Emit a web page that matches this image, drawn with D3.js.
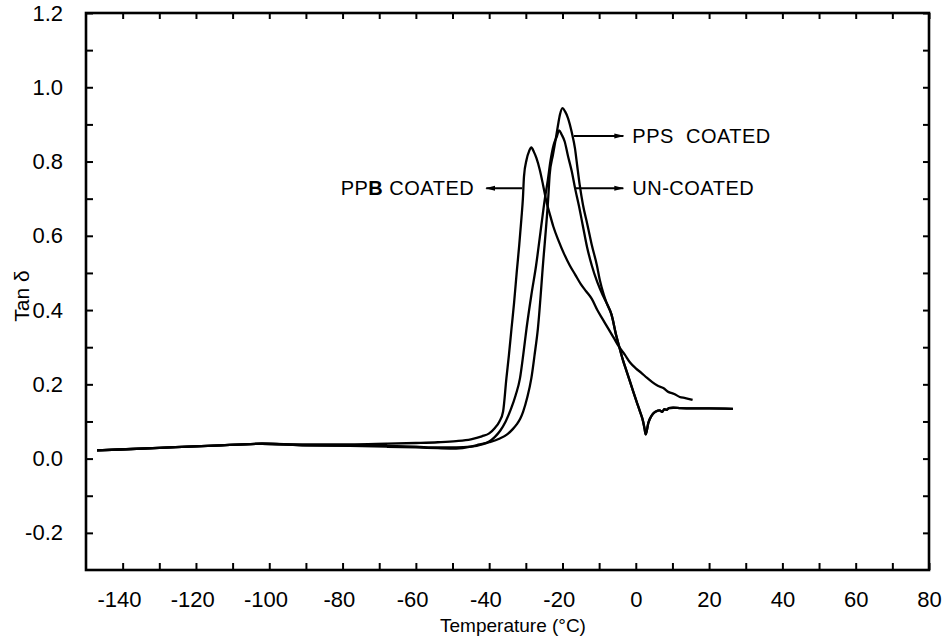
<!DOCTYPE html>
<html>
<head>
<meta charset="utf-8">
<script src="https://d3js.org/d3.v7.min.js"></script>
<style>
  body { margin: 0; background: #fff; }
  svg { display: block; font-family: "Liberation Sans", Arial, sans-serif; }
</style>
</head>
<body>
<svg id="chart" width="946" height="637"></svg>
<script>
// axis ticks and labels
const xTicks = [-140, -130, -120, -110, -100, -90, -80, -70, -60, -50, -40, -30, -20, -10, 0, 10, 20, 30, 40, 50, 60, 70, 80];
const xLabels = [-140, -120, -100, -80, -60, -40, -20, 0, 20, 40, 60, 80];
const yTicks = [-0.2, -0.1, 0.0, 0.1, 0.2, 0.3, 0.4, 0.5, 0.6, 0.7, 0.8, 0.9, 1.0, 1.1, 1.2];
const yLabels = [-0.2, 0.0, 0.2, 0.4, 0.6, 0.8, 1.0, 1.2];

// PPB coated (temperature °C, tan delta)
const ppbT = [-147, -130, -115, -102, -90, -78, -68, -60, -54, -49, -45, -42, -40, -38.5, -37.2, -36.2, -35.3, -34.6, -33.9, -33.2, -32.5, -31.8, -31.2, -30.8, -30.5, -29.8, -29.1, -28.5, -27.8, -27.1, -26.2, -25.3, -24.4, -23.5, -22.5, -21, -19.5, -18, -16.5, -15, -13.5, -12, -10.5, -9, -7.5, -6, -4.5, -3, -1.5, 0, 1.5, 3, 4.5, 6, 7.5, 9, 10.5, 12, 13.5, 15.5];
const ppbV = [0.022, 0.029, 0.035, 0.040, 0.038, 0.038, 0.040, 0.042, 0.044, 0.047, 0.052, 0.060, 0.068, 0.082, 0.100, 0.127, 0.216, 0.280, 0.351, 0.420, 0.500, 0.575, 0.647, 0.700, 0.760, 0.805, 0.828, 0.838, 0.826, 0.809, 0.778, 0.737, 0.693, 0.660, 0.625, 0.585, 0.550, 0.520, 0.495, 0.470, 0.450, 0.430, 0.400, 0.375, 0.350, 0.325, 0.300, 0.280, 0.258, 0.243, 0.231, 0.218, 0.206, 0.196, 0.190, 0.179, 0.174, 0.166, 0.163, 0.158];

// PPS coated
const ppsT = [-147, -130, -115, -102, -90, -78, -68, -60, -54, -49, -45, -42.6, -40, -37.1, -35, -33.5, -32.5, -31.5, -30.75, -29.6, -28.5, -27.6, -26.7, -25.3, -23.9, -23.5, -22.6, -21.8, -21.2, -20.7, -20.0, -19.3, -18.5, -17.5, -16.6, -16.0, -15.3, -14.4, -13.2, -12, -10.6, -9.8, -8.7, -8.0, -6.6, -5.3, -4.4, -3.5, -2.5, -1, 0.2, 1.2, 2.0, 2.4, 2.7, 3.0, 3.4, 4.0, 4.7, 5.5, 6.5, 7.2, 7.8, 8.4, 9.0, 10.2, 12, 15, 20, 26.5];
const ppsV = [0.022, 0.029, 0.035, 0.040, 0.036, 0.034, 0.032, 0.030, 0.028, 0.027, 0.032, 0.038, 0.044, 0.054, 0.066, 0.080, 0.092, 0.108, 0.126, 0.165, 0.216, 0.280, 0.351, 0.525, 0.700, 0.764, 0.818, 0.863, 0.899, 0.926, 0.944, 0.935, 0.917, 0.880, 0.836, 0.790, 0.737, 0.683, 0.630, 0.575, 0.520, 0.480, 0.440, 0.420, 0.387, 0.330, 0.297, 0.265, 0.235, 0.190, 0.154, 0.125, 0.100, 0.080, 0.065, 0.075, 0.095, 0.110, 0.121, 0.127, 0.130, 0.126, 0.133, 0.131, 0.136, 0.137, 0.136, 0.135, 0.135, 0.134];

// un-coated
const uncT = [-147, -130, -115, -102, -90, -78, -68, -60, -54, -49, -45, -42, -40, -38.5, -37, -35.5, -34, -32.8, -31.6, -30.7, -29.8, -28.5, -27.2, -26, -24.8, -24, -23.3, -22.4, -21.6, -20.9, -20.2, -19.4, -18.5, -17.5, -16.5, -15.5, -14.5, -13.3, -12, -10.5, -9, -8, -6.6, -5.3, -4.4, -3.5, -2.5, -1, 0.2, 1.2, 2.0, 2.4, 2.7, 3.0, 3.4, 4.0, 4.7, 5.5, 6.5, 7.2, 7.8, 8.4, 9.0, 10.2, 12, 15, 20, 26.5];
const uncV = [0.022, 0.029, 0.035, 0.040, 0.036, 0.035, 0.034, 0.032, 0.030, 0.030, 0.032, 0.038, 0.046, 0.058, 0.075, 0.100, 0.135, 0.170, 0.216, 0.280, 0.351, 0.440, 0.520, 0.610, 0.700, 0.750, 0.800, 0.845, 0.866, 0.884, 0.872, 0.854, 0.815, 0.775, 0.725, 0.680, 0.630, 0.570, 0.520, 0.475, 0.440, 0.420, 0.387, 0.330, 0.297, 0.265, 0.235, 0.190, 0.154, 0.125, 0.100, 0.080, 0.065, 0.075, 0.095, 0.110, 0.121, 0.127, 0.130, 0.126, 0.133, 0.131, 0.136, 0.137, 0.136, 0.135, 0.135, 0.134];

// annotations: label, arrow start (on curve), arrow end
const noteLabels = ["PPS  COATED", "UN-COATED", "PPB COATED"];
const noteFrom = [[-16.9, 0.869], [-16.4, 0.728], [-31.0, 0.728]];
const noteTo = [[-3.4, 0.869], [-3.4, 0.728], [-40.8, 0.728]];

const svg = d3.select("#chart");
const x = d3.scaleLinear().domain([-150, 80]).range([86, 929]);
const y = d3.scaleLinear().domain([-0.3, 1.2]).range([570, 13]);

const near = (arr, v) => arr.some(a => Math.abs(a - v) < 1e-9);

// bottom axis with labels
const gx = svg.append("g")
    .attr("transform", `translate(0,${y(-0.3)})`)
    .call(d3.axisBottom(x).tickValues(xTicks).tickSize(-7).tickPadding(21)
        .tickFormat(d => near(xLabels, d) ? String(d) : ""));
gx.selectAll("text").attr("dx", d => d < 0 ? "-0.17em" : 0);

// top axis
const gt = svg.append("g")
    .attr("transform", `translate(0,${y(1.2)})`)
    .call(d3.axisTop(x).tickValues(xTicks).tickSize(-6).tickFormat(""));

// left axis with labels
const gy = svg.append("g")
    .attr("transform", `translate(${x(-150)},0)`)
    .call(d3.axisLeft(y).tickValues(yTicks).tickSize(-7).tickPadding(23)
        .tickFormat(d => near(yLabels, d) ? d.toFixed(1) : ""));

// right axis
const gr = svg.append("g")
    .attr("transform", `translate(${x(80)},0)`)
    .call(d3.axisRight(y).tickValues(yTicks).tickSize(-6).tickFormat(""));

[gx, gt, gy, gr].forEach(g => {
    g.select(".domain").remove();
    g.selectAll("line").attr("stroke", "#000").attr("stroke-width", 2);
    g.selectAll("text").attr("fill", "#000").style("font-size", "22px");
});

// frame
svg.append("rect")
    .attr("x", x(-150)).attr("y", y(1.2))
    .attr("width", x(80) - x(-150)).attr("height", y(-0.3) - y(1.2))
    .attr("fill", "none").attr("stroke", "#000").attr("stroke-width", 2.6);

// axis titles
svg.append("text")
    .attr("x", 513).attr("y", 632)
    .attr("text-anchor", "middle")
    .style("font-size", "19px")
    .text("Temperature (°C)");

svg.append("text")
    .attr("transform", "translate(29,296) rotate(-90)")
    .attr("text-anchor", "middle")
    .style("font-size", "21px")
    .text("Tan δ");

// curves
const line = d3.line()
    .x(d => x(d[0]))
    .y(d => y(d[1]))
    .curve(d3.curveMonotoneX);

[[ppbT, ppbV], [uncT, uncV], [ppsT, ppsV]].forEach(([t, v]) => {
    svg.append("path")
        .datum(d3.zip(t, v))
        .attr("fill", "none")
        .attr("stroke", "#000")
        .attr("stroke-width", 2.3)
        .attr("stroke-linejoin", "round")
        .attr("d", line);
});

// arrows
svg.append("defs").append("marker")
    .attr("id", "head")
    .attr("viewBox", "0 0 10 6")
    .attr("refX", 9).attr("refY", 3)
    .attr("markerWidth", 10).attr("markerHeight", 6)
    .attr("markerUnits", "userSpaceOnUse")
    .attr("orient", "auto")
    .append("path")
    .attr("d", "M0,0.5 L10,3 L0,5.5 Z")
    .attr("fill", "#000");

noteLabels.forEach((lab, i) => {
    const [t0, v0] = noteFrom[i];
    const [t1, v1] = noteTo[i];
    svg.append("line")
        .attr("x1", x(t0)).attr("y1", y(v0))
        .attr("x2", x(t1)).attr("y2", y(v1))
        .attr("stroke", "#000").attr("stroke-width", 2)
        .attr("marker-end", "url(#head)");
    const left = t1 < t0;
    const txt = svg.append("text")
        .attr("x", x(t1) + (left ? -12 : 9))
        .attr("y", y(v1))
        .attr("dy", "0.36em")
        .attr("text-anchor", left ? "end" : "start")
        .style("font-size", "20px")
        .style("letter-spacing", "0.5px")
        .style("white-space", "pre");
    if (lab.startsWith("PPB")) {
        txt.append("tspan").text("PP");
        txt.append("tspan").style("font-weight", "bold").text("B");
        txt.append("tspan").text(" COATED");
    } else {
        txt.text(lab);
    }
});
</script>
</body>
</html>
